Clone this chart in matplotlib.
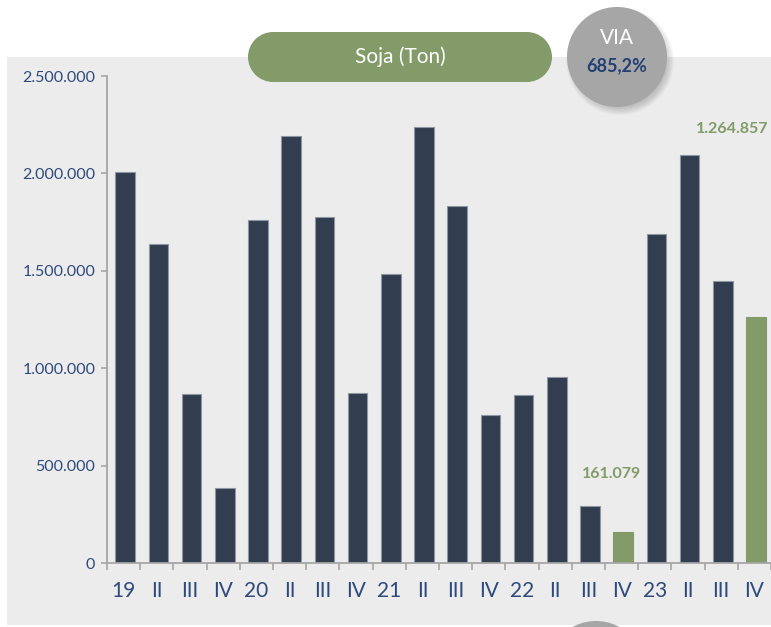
import matplotlib.pyplot as plt
from matplotlib.patches import Rectangle, Circle
import numpy as np

plt.rcParams['font.family'] = ['Lato', 'DejaVu Sans']

# datos
labels = ['19', 'II', 'III', 'IV', '20', 'II', 'III', 'IV', '21', 'II', 'III', 'IV',
          '22', 'II', 'III', 'IV', '23', 'II', 'III', 'IV']
values = [2005000, 1636000, 866000, 384000, 1762000, 2193000, 1776000, 876000,
          1484000, 2240000, 1834000, 760000, 862000, 954000, 293000, 161079,
          1687000, 2097000, 1446000, 1264857]
highlight = [15, 19]
yticks = [0, 500000, 1000000, 1500000, 2000000, 2500000]
ytick_labels = ['0', '500.000', '1.000.000', '1.500.000', '2.000.000', '2.500.000']
title = 'Soja (Ton)'
via_label = 'VIA'
via_value = '685,2%'

dark = '#323d4f'
green = '#829b68'
blue_txt = '#2e4a7c'
axis_gray = '#a6a6a6'

W, H = 771, 627
fig = plt.figure(figsize=(W / 100, H / 100), dpi=100)

# fondo gris
bg = fig.add_axes([0, 0, 1, 1])
bg.set_xlim(0, W)
bg.set_ylim(H, 0)
bg.axis('off')
bg.add_patch(Rectangle((7, 57), W - 7, 568, color='#ececec', lw=0))

# barras
ax = fig.add_axes([107 / W, 1 - 563.3 / H, (W - 107) / W, (563.3 - 76) / H])
ax.patch.set_alpha(0)
x = np.arange(len(values))
colors = [green if i in highlight else dark for i in x]
edges = [green if i in highlight else '#8d96a3' for i in x]
ax.bar(x + 0.05, values, width=0.59, color=colors, edgecolor=edges, linewidth=0.8)
ax.set_xlim(-0.5, len(values) - 0.5)
ax.set_ylim(0, 2500000)
for s in ['top', 'right']:
    ax.spines[s].set_visible(False)
for s in ['left', 'bottom']:
    ax.spines[s].set_color(axis_gray)
    ax.spines[s].set_linewidth(1.3)

ax.set_yticks(yticks, ytick_labels)
ax.tick_params(axis='y', length=4.5, width=1.2, color=axis_gray, labelcolor=blue_txt,
               labelsize=11.5, pad=4)
ax.set_xticks(x, labels)
ax.set_xticks(np.arange(-0.5, len(values), 1), minor=True)
ax.tick_params(axis='x', which='major', length=0, labelcolor=blue_txt, labelsize=15, pad=13)
ax.tick_params(axis='x', which='minor', length=5, width=1.2, color=axis_gray)

ax.annotate('161.079', xy=(15, values[15]), xytext=(-7, 42), textcoords='offset points',
            ha='center', va='center', color=green, fontsize=11.5, fontweight='bold',
            annotation_clip=False)
ax.annotate('1.264.857', xy=(19, values[19]), xytext=(-16, 135), textcoords='offset points',
            ha='center', va='center', color=green, fontsize=11.5, fontweight='bold',
            annotation_clip=False)

# titulo y circulos
top = fig.add_axes([0, 0, 1, 1], zorder=5)
top.set_xlim(0, W)
top.set_ylim(H, 0)
top.axis('off')
top.add_patch(Rectangle((273, 32), 254, 50, color=green, lw=0))
top.add_patch(Circle((273, 57), 25, color=green, lw=0))
top.add_patch(Circle((527, 57), 25, color=green, lw=0))
top.text(400, 57, title, color='white', fontsize=15, ha='center', va='center')

cx, cy, r = 617, 57, 50
for i in range(8):
    top.add_patch(Circle((cx + 3, cy + 4), r + 4 - i, color='black', alpha=0.025, lw=0))
top.add_patch(Circle((cx, cy), r, color=axis_gray, lw=0))
top.text(cx, cy - 19, via_label, color='white', fontsize=15, ha='center', va='center')
top.text(cx, cy + 9, via_value, color='#233f73', fontsize=13, fontweight='bold',
         ha='center', va='center')

top.add_patch(Circle((596, 670), 49, color=axis_gray, lw=0))

plt.savefig('out.png', dpi=100)
